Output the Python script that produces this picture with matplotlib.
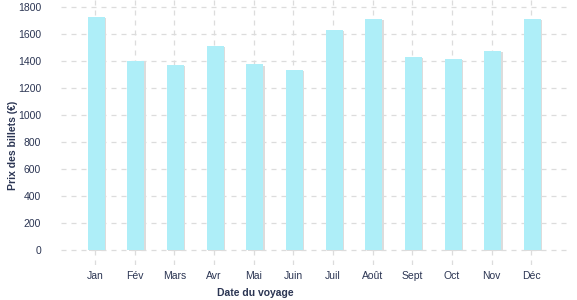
import numpy as np
import matplotlib.pyplot as plt
import matplotlib.patheffects as pe

# data
months = ['Jan', 'Fév', 'Mars', 'Avr', 'Mai', 'Juin', 'Juil', 'Août',
          'Sept', 'Oct', 'Nov', 'Déc']
prices = [1725, 1400, 1370, 1510, 1375, 1335, 1630, 1710, 1430, 1415, 1475, 1710]
yticks = [0, 200, 400, 600, 800, 1000, 1200, 1400, 1600, 1800]

plt.rcParams['font.family'] = ['Liberation Sans', 'DejaVu Sans']
text_col = '#2b3553'

W, H = 577, 300
fig = plt.figure(figsize=(W / 100, H / 100), dpi=100)
# axes box in pixels: left 61, right 567, top 0, bottom 265
ax = fig.add_axes([61 / W, (H - 265) / H, (567 - 61) / W, 265 / H])

x = np.arange(len(months))
bars = ax.bar(x + 0.03, prices, width=0.43, color='#aeeef8', zorder=3)
for b in bars:
    b.set_path_effects([pe.SimplePatchShadow(offset=(0.9, -0.9),
                                             shadow_rgbFace='#dcdcdc', alpha=1),
                        pe.Normal()])

ax.set_xlim(-0.86, 11.9)
ax.set_ylim(-111, 1852)
ax.set_yticks(yticks)
ax.set_xticks(x)
ax.set_xticklabels(months)

ax.grid(True, color='#dcdcdc', linestyle=(0, (4, 4)), linewidth=0.9, zorder=0)
for s in ax.spines.values():
    s.set_visible(False)
ax.tick_params(length=0, labelsize=7.5, colors=text_col)
ax.tick_params(axis='y', pad=14.4)
ax.tick_params(axis='x', pad=4)

fig.text(255 / W, 1 - 293 / H, 'Date du voyage', ha='center', va='center',
         fontsize=7.5, fontweight='bold', color=text_col)
fig.text(13 / W, 1 - 145 / H, 'Prix des billets (€)', ha='center', va='center',
         rotation=90, fontsize=7.5, fontweight='bold', color=text_col)

fig.savefig('out.png', dpi=100)
